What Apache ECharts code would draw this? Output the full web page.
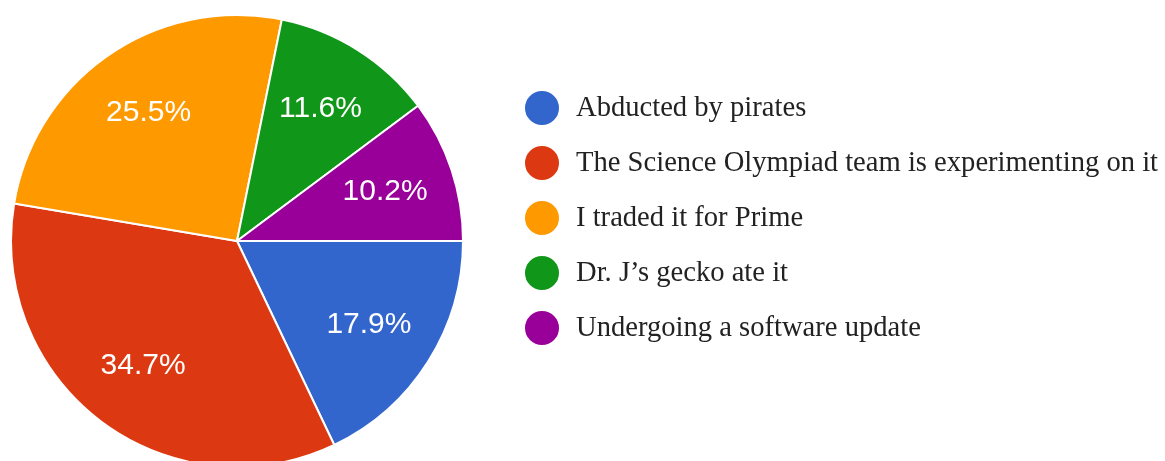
<!DOCTYPE html>
<html>
<head>
<meta charset="utf-8">
<script src="https://cdn.jsdelivr.net/npm/echarts@6/dist/echarts.min.js"></script>
<style>
  html, body { margin: 0; padding: 0; background: #fff; }
  #chart { width: 1165px; height: 461px; }
</style>
</head>
<body>
<div id="chart"></div>
<script>
var categories = [
  'Abducted by pirates',
  'The Science Olympiad team is experimenting on it',
  'I traded it for Prime',
  'Dr. J\u2019s gecko ate it',
  'Undergoing a software update'
];
var percents = [17.9, 34.7, 25.5, 11.6, 10.2];
var colors = ['#3366cc', '#dc3912', '#ff9900', '#109618', '#990099'];

var slices = [];
for (var i = 0; i < categories.length; i++) {
  slices.push({ name: categories[i], value: percents[i] });
}

var myChart = echarts.init(document.getElementById('chart'));
var option = {
  color: colors,
  animation: false,
  legend: {
    orient: 'vertical',
    left: 518,
    top: 84,
    icon: 'circle',
    itemWidth: 36,
    itemHeight: 36,
    itemGap: 17,
    data: categories,
    textStyle: {
      fontFamily: 'Liberation Serif',
      fontSize: 28.6,
      color: '#222',
      padding: [0, 0, 0, 11]
    }
  },
  series: [
    {
      // the pie itself
      name: 'pie',
      type: 'pie',
      center: [237, 241],
      radius: [0, 226],
      startAngle: 0,
      clockwise: true,
      avoidLabelOverlap: false,
      label: { show: false },
      labelLine: { show: false },
      itemStyle: { borderColor: '#fff', borderWidth: 2 },
      emphasis: { disabled: true },
      data: slices
    },
    {
      // invisible ring, only to place the labels further out
      name: 'labels',
      type: 'pie',
      center: [237, 241],
      radius: [80, 226],
      startAngle: 0,
      clockwise: true,
      silent: true,
      avoidLabelOverlap: false,
      itemStyle: { color: 'rgba(0,0,0,0)', borderWidth: 0 },
      labelLine: { show: false },
      label: {
        show: true,
        position: 'inner',
        formatter: '{c}%',
        color: '#fff',
        fontFamily: 'Liberation Sans',
        fontSize: 30
      },
      emphasis: { disabled: true },
      data: slices
    }
  ]
};
myChart.setOption(option);
</script>
</body>
</html>
